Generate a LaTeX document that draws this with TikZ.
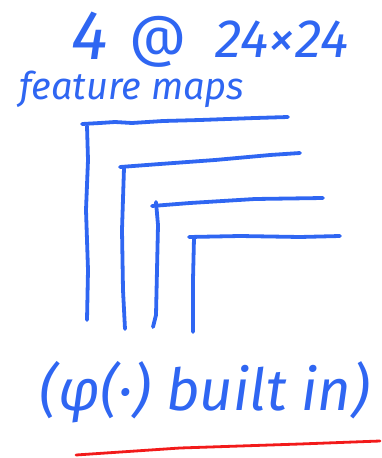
\documentclass[tikz,border=0pt]{standalone}
\usepackage{fontspec}
\setmainfont{Fira Sans}
\definecolor{pen}{HTML}{2F66F2}
\definecolor{redpen}{HTML}{F21A1A}
\tikzset{
  stroke/.style={draw=pen, line width=3.8pt, line cap=round, line join=round},
  hand/.style={text=pen, inner sep=0pt, font=\itshape},
}
\begin{document}
\begin{tikzpicture}[x=1pt,y=-1pt]
\useasboundingbox (0,0) rectangle (381,458);
% title
\node[hand, anchor=base, text depth=0pt, font=\fontsize{70}{70}\selectfont\itshape] (four) at (90,59) {4};
\node[hand, anchor=base, text depth=0pt, font=\fontsize{56}{56}\selectfont] (at) at (158,55) {@};
\node[hand, anchor=base, text depth=0pt, font=\fontsize{54}{54}\selectfont\itshape] (size) at (282,57) {24×24};
\node[hand, anchor=base, font=\fontsize{38}{38}\selectfont\itshape] (fm) at (132,99) {feature maps};
% brackets
\draw[stroke] (82,124) -- (100,123) -- (115,122) -- (132,123) -- (163,121) -- (200,120) -- (255,118) -- (288,117);
\draw[stroke] (87,126) -- (88,160) -- (86,210) -- (88,270) -- (87,320);
\draw[stroke] (120,167) -- (160,164) -- (215,160) -- (270,155) -- (300,153);
\draw[stroke] (124,168) -- (122,230) -- (123,290) -- (125,329);
\draw[stroke] (152,206) -- (190,203) -- (255,199) -- (323,198);
\draw[stroke] (156,202) -- (158,225) -- (157,270) -- (156,315) -- (153,327);
\draw[stroke] (189,237) -- (240,236) -- (300,237) -- (340,236);
\draw[stroke] (194,238) -- (193,280) -- (193,332);
% bottom text
\node[hand, font=\fontsize{58}{58}\selectfont\itshape] (note) at (205,392) {(φ(·) built in)};
\draw[draw=redpen, line width=2.8pt, line cap=round] (76,455) -- (180,448) -- (300,444) -- (380,441);
\end{tikzpicture}
\end{document}
